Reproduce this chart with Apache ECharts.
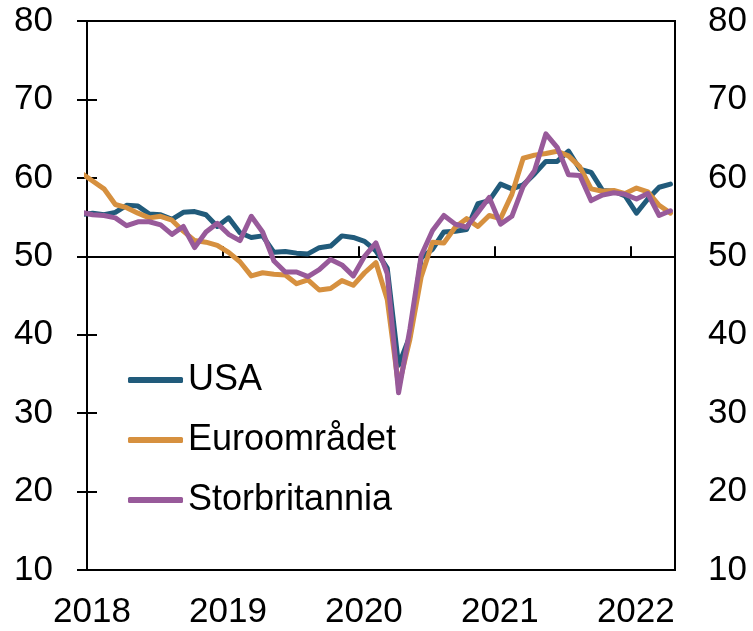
<!DOCTYPE html>
<html><head><meta charset="utf-8">
<script src="https://cdn.jsdelivr.net/npm/echarts@6/dist/echarts.min.js"></script>
<style>html,body{margin:0;padding:0;background:#fff}#c{width:753px;height:631px}</style>
</head><body><div id="c"></div>
<script>
// Monthly values, first value = Dec 2017, last = Apr 2022
const firstYear = 2017, firstMonth = 12;
const seriesNames = ['USA', 'Euroområdet', 'Storbritannia'];
const usa = [55.3,
  55.5, 55.3, 55.6, 56.5, 56.4, 55.4, 55.3, 54.7, 55.6, 55.7, 55.3, 53.8,
  54.9, 53.0, 52.4, 52.6, 50.5, 50.6, 50.4, 50.3, 51.1, 51.3, 52.6, 52.4,
  51.9, 50.7, 48.5, 36.1, 39.8, 49.8, 50.9, 53.1, 53.2, 53.4, 56.7, 57.1,
  59.2, 58.6, 59.1, 60.5, 62.1, 62.1, 63.4, 61.1, 60.7, 58.4, 58.3, 57.7,
  55.5, 57.3, 58.8, 59.2];
const euro = [60.6,
  59.6, 58.6, 56.6, 56.2, 55.5, 54.9, 55.1, 54.6, 53.2, 52.0, 51.8, 51.4,
  50.5, 49.3, 47.5, 47.9, 47.7, 47.6, 46.5, 47.0, 45.7, 45.9, 46.9, 46.3,
  47.9, 49.2, 44.5, 33.4, 39.4, 47.4, 51.8, 51.7, 53.7, 54.8, 53.8, 55.2,
  54.8, 57.9, 62.5, 62.9, 63.1, 63.4, 62.8, 61.4, 58.6, 58.3, 58.4, 58.0,
  58.7, 58.2, 56.5, 55.5];
const uk = [55.6,
  55.3, 55.2, 54.9, 53.9, 54.4, 54.4, 54.0, 52.8, 53.8, 51.1, 53.1, 54.2,
  52.8, 52.0, 55.1, 53.1, 49.4, 48.0, 48.0, 47.4, 48.3, 49.6, 48.9, 47.5,
  50.0, 51.7, 47.8, 32.6, 40.7, 50.1, 53.3, 55.2, 54.1, 53.7, 55.6, 57.5,
  54.1, 55.1, 58.9, 60.9, 65.6, 63.9, 60.4, 60.3, 57.1, 57.8, 58.1, 57.9,
  57.3, 58.0, 55.2, 55.8];
const yearLabels = ['2018', '2019', '2020', '2021', '2022'];
const yMin = 10, yMax = 80, yStep = 10, refLevel = 50;
const colors = ['#215b7b', '#d6903f', '#985a9a'];

// x = months since 1 Jan 2018, points placed mid-month
function toPairs(arr) {
  const off = (firstYear - 2018) * 12 + (firstMonth - 1);
  return arr.map((v, i) => [off + i + 0.5, v]);
}
const xMax = 51.9;
const font = "'Liberation Sans', Arial, sans-serif";
const chart = echarts.init(document.getElementById('c'));
const gridTop = 21, gridBottom = 61, gridH = 631 - gridTop - gridBottom;
const refOffset = -((refLevel - yMin) / (yMax - yMin)) * gridH;

const yAxisCommon = {
  type: 'value', min: yMin, max: yMax, interval: yStep,
  axisLine: { show: true, lineStyle: { color: '#000', width: 2 } },
  axisTick: { show: true, inside: true, length: 10, lineStyle: { color: '#000', width: 2 } },
  splitLine: { show: false },
  axisLabel: { color: '#000', fontSize: 35, fontFamily: font, margin: 34 }
};

chart.setOption({
  animation: false,
  backgroundColor: '#fff',
  grid: { left: 87, right: 78, top: gridTop, bottom: gridBottom, show: true, borderColor: '#000', borderWidth: 2, backgroundColor: 'transparent' },
  legend: {
    orient: 'vertical', left: 128, top: 359, padding: 0,
    icon: 'roundRect', itemWidth: 55, itemHeight: 6, itemGap: 18,
    textStyle: { fontSize: 36, fontFamily: font, color: '#000', lineHeight: 42 },
    data: seriesNames
  },
  xAxis: [
    {
      type: 'value', min: 0, max: xMax, interval: 12, position: 'bottom',
      axisLine: { show: false }, axisTick: { show: false }, splitLine: { show: false },
      axisLabel: {
        color: '#000', fontSize: 35, fontFamily: font, margin: 25, padding: [0, 0, 0, 10],
        showMaxLabel: false,
        formatter: v => (Math.abs(v % 12) < 1e-6 ? yearLabels[Math.round(v / 12)] || '' : '')
      }
    },
    {
      type: 'value', min: 0, max: xMax, interval: 12, position: 'bottom', offset: refOffset,
      axisLine: { show: true, lineStyle: { color: '#000', width: 2 } },
      axisTick: { show: true, inside: true, length: 10, lineStyle: { color: '#000', width: 2 } },
      axisLabel: { show: false }, splitLine: { show: false }
    }
  ],
  yAxis: [
    Object.assign({}, yAxisCommon, { position: 'left' }),
    Object.assign({}, yAxisCommon, { position: 'right', axisLabel: Object.assign({}, yAxisCommon.axisLabel, { margin: 33 }) })
  ],
  series: [usa, euro, uk].map((arr, k) => ({
    name: seriesNames[k], type: 'line', xAxisIndex: 0, yAxisIndex: 0,
    data: toPairs(arr), symbol: 'none', clip: true, silent: true,
    color: colors[k], itemStyle: { color: colors[k] },
    lineStyle: { width: 5, color: colors[k], cap: 'round', join: 'round' }
  }))
});
</script></body></html>
